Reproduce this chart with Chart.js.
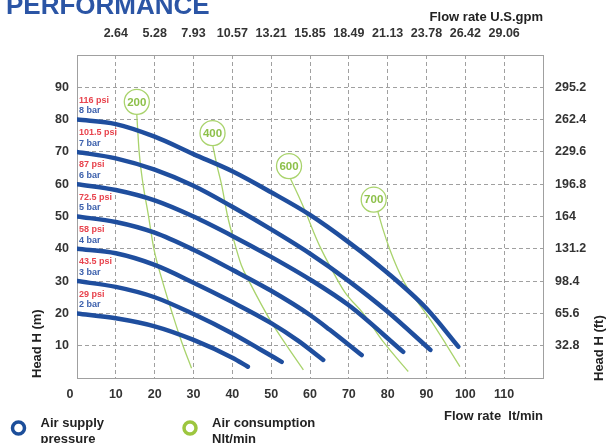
<!DOCTYPE html>
<html>
<head>
<meta charset="utf-8">
<script src="https://cdn.jsdelivr.net/npm/chart.js@4.4.1/dist/chart.umd.min.js"></script>
<style>
  html, body { margin: 0; padding: 0; background: #fff; }
  canvas { display: block; }
</style>
</head>
<body>
<canvas id="chart" width="608" height="443"></canvas>
<script>
// head (m) against flow rate (lt/min), one curve per air supply pressure
const pressureBar = ['8 bar', '7 bar', '6 bar', '5 bar', '4 bar', '3 bar', '2 bar'];
const pressurePsi = ['116 psi', '101.5 psi', '87 psi', '72.5 psi', '58 psi', '43.5 psi', '29 psi'];
const curve8bar = [[0, 80], [10, 78.6], [20, 74.7], [30, 69.3], [40, 64], [50, 57.5], [60, 50.5], [70, 42], [80, 32.5], [90, 21.5], [98.2, 9.7]];
const curve7bar = [[0, 70], [10, 68], [20, 64.5], [30, 59.5], [40, 53], [50, 46], [60, 38.5], [70, 30], [80, 20.5], [91, 8.7]];
const curve6bar = [[0, 60], [10, 58.2], [20, 55], [30, 50], [40, 44], [50, 37.5], [60, 30.5], [70, 22.5], [84, 8.1]];
const curve5bar = [[0, 50], [10, 48.3], [20, 45], [30, 39.7], [40, 33.5], [50, 27], [60, 19.5], [65, 15], [73.3, 7.1]];
const curve4bar = [[0, 40], [10, 38.6], [20, 35], [30, 29.5], [40, 23.5], [50, 17], [57, 11.5], [63.4, 5.6]];
const curve3bar = [[0, 30], [10, 28.2], [20, 25], [30, 19.8], [40, 13.8], [47, 9], [52.7, 5]];
const curve2bar = [[0, 20], [10, 18.5], [20, 16], [30, 11.8], [40, 6.3], [44, 3.5]];

// air consumption lines (Nlt/min) and where their circled labels sit
const airLevels = ['200', '400', '600', '700'];
const airLabelAt = [[15.4, 85.5], [34.9, 75.8], [54.6, 65.6], [76.4, 55.2]];
const air200 = [[15.4, 81.5], [16, 70], [17, 60], [18.3, 51], [19.8, 40], [22, 30], [24.8, 19], [27, 11], [29.5, 3]];
const air400 = [[35, 71.8], [36, 66], [37.2, 60], [38.8, 50], [40.3, 43], [42.3, 35], [44.6, 29.3], [49.7, 18], [54, 10], [58.3, 2.5]];
const air600 = [[55, 61.6], [57, 56.5], [59, 51], [61, 45], [62.6, 40.6], [65.2, 34.5], [69, 26.5], [73.7, 20], [79, 11], [85.3, 2]];
const air700 = [[77.5, 51.4], [78.8, 46], [80.6, 39.6], [82.5, 34], [84.9, 28.3], [88, 23], [91, 18], [95, 10.5], [98.6, 3.5]];

// secondary axes
const gpmTicks = ['2.64', '5.28', '7.93', '10.57', '13.21', '15.85', '18.49', '21.13', '23.78', '26.42', '29.06'];
const ftTicks = ['32.8', '65.6', '98.4', '131.2', '164', '196.8', '229.6', '262.4', '295.2'];

const blue = '#1f4e9e';
const green = '#a9d36c';
const greenText = '#8dc04a';
const red = '#e8434d';
const labelBlue = '#3d61ad';
const gridGray = '#a0a0a0';
const font = "'Liberation Sans', Arial, sans-serif";

const pressureCurves = [curve8bar, curve7bar, curve6bar, curve5bar, curve4bar, curve3bar, curve2bar];
const airCurves = [air200, air400, air600, air700];
const toXY = (pts) => pts.map(([x, y]) => ({ x, y }));

const datasets = [];
pressureCurves.forEach((pts, i) => {
  datasets.push({
    label: pressureBar[i],
    data: toXY(pts),
    borderColor: blue,
    borderWidth: 4.5,
    borderCapStyle: 'round',
    pointRadius: 0,
    cubicInterpolationMode: 'monotone',
  });
});
datasets.push({
  label: 'air labels',
  data: toXY(airLabelAt),
  showLine: false,
  pointRadius: 12.5,
  pointBackgroundColor: '#fff',
  pointBorderColor: green,
  pointBorderWidth: 1.3,
});
airCurves.forEach((pts, i) => {
  datasets.push({
    label: airLevels[i],
    data: toXY(pts),
    borderColor: green,
    borderWidth: 1.3,
    pointRadius: 0,
    cubicInterpolationMode: 'monotone',
  });
});

const tickFont = { family: font, size: 12.5, weight: 'bold' };
const titleFont = { family: font, size: 13, weight: 'bold' };
const edgeHidden = (lo, hi) => (c) => (c.tick.value === lo || c.tick.value === hi ? 'rgba(0,0,0,0)' : gridGray);

// texts that sit on the chart rather than on a scale
const textPlugin = {
  id: 'pumpText',
  afterDraw(chart) {
    const { ctx, scales: { x, y } } = chart;
    ctx.save();
    ctx.textBaseline = 'middle';

    ctx.font = `bold 11.5px ${font}`;
    ctx.textAlign = 'center';
    ctx.fillStyle = greenText;
    airLabelAt.forEach(([ax, ay], i) => {
      ctx.fillText(airLevels[i], x.getPixelForValue(ax), y.getPixelForValue(ay) + 0.5);
    });

    ctx.font = `bold 9px ${font}`;
    ctx.textAlign = 'left';
    pressureCurves.forEach((pts, i) => {
      const head = pts[0][1];
      ctx.fillStyle = red;
      ctx.fillText(pressurePsi[i], x.left + 2, y.getPixelForValue(head + 6));
      ctx.fillStyle = labelBlue;
      ctx.fillText(pressureBar[i], x.left + 2, y.getPixelForValue(head + 2.7));
    });

    // zero sits a little left of the corner
    ctx.font = `bold 12.5px ${font}`;
    ctx.textAlign = 'center';
    ctx.fillStyle = '#333';
    ctx.fillText('0', x.left - 7, 395);

    // page heading, cut off at the top
    ctx.font = `bold 26px ${font}`;
    ctx.textAlign = 'left';
    ctx.textBaseline = 'alphabetic';
    ctx.fillStyle = '#2b55a5';
    ctx.fillText('PERFORMANCE', 6, 14);

    // right axis title, reads bottom to top
    ctx.font = `bold 13px ${font}`;
    ctx.fillStyle = '#222';
    ctx.translate(599, 381);
    ctx.rotate(-Math.PI / 2);
    ctx.textBaseline = 'middle';
    ctx.fillText('Head H (ft)', 0, 0);
    ctx.setTransform(1, 0, 0, 1, 0, 0);

    // legend
    const legend = [
      { cx: 18.5, color: '#1c4e9a', lines: ['Air supply', 'pressure'] },
      { cx: 190, color: '#9dc63f', lines: ['Air consumption', 'Nlt/min'] },
    ];
    legend.forEach((item) => {
      ctx.beginPath();
      ctx.arc(item.cx, 428, 6, 0, Math.PI * 2);
      ctx.lineWidth = 3.5;
      ctx.strokeStyle = item.color;
      ctx.stroke();
      ctx.fillStyle = '#222';
      ctx.font = `bold 13px ${font}`;
      ctx.textBaseline = 'middle';
      ctx.fillText(item.lines[0], item.cx + 22, 423);
      ctx.fillText(item.lines[1], item.cx + 22, 439);
    });
    ctx.restore();
  },
};

new Chart(document.getElementById('chart'), {
  type: 'line',
  data: { datasets },
  options: {
    responsive: false,
    animation: false,
    layout: { padding: { top: 0, left: 0, right: 0, bottom: 19 } },
    plugins: { legend: { display: false }, tooltip: { enabled: false } },
    scales: {
      x: {
        type: 'linear',
        position: 'bottom',
        min: 0,
        max: 120,
        afterFit: (s) => { s.height = 46; },
        ticks: {
          stepSize: 10,
          padding: 9.5,
          font: tickFont,
          color: '#333',
          callback: (v) => (v === 0 || v === 120 ? '' : v),
        },
        grid: { color: edgeHidden(0, 120), drawTicks: false },
        border: { display: true, color: gridGray, dash: [4, 3] },
        title: { display: true, text: 'Flow rate  lt/min', align: 'end', font: titleFont, color: '#222', padding: { top: 0, bottom: 0 } },
      },
      x2: {
        type: 'linear',
        position: 'top',
        min: 0,
        max: 120,
        afterFit: (s) => { s.height = 55; },
        ticks: {
          stepSize: 10,
          padding: 5.5,
          font: tickFont,
          color: '#333',
          callback: (v) => gpmTicks[v / 10 - 1] || '',
        },
        grid: { display: false },
        border: { display: true, color: gridGray },
        title: { display: true, text: 'Flow rate U.S.gpm', align: 'end', font: titleFont, color: '#222', padding: { top: 10, bottom: 0 } },
      },
      y: {
        type: 'linear',
        position: 'left',
        min: 0,
        max: 100,
        afterFit: (s) => { s.width = 77; },
        ticks: {
          stepSize: 10,
          padding: 8,
          font: tickFont,
          color: '#333',
          callback: (v) => (v === 0 || v === 100 ? '' : v),
        },
        grid: { color: edgeHidden(0, 100), drawTicks: false },
        border: { display: true, color: gridGray, dash: [4, 3] },
        title: { display: true, text: 'Head H (m)', align: 'start', font: titleFont, color: '#222', padding: { top: 30, bottom: 0 } },
      },
      y2: {
        type: 'linear',
        position: 'right',
        min: 0,
        max: 100,
        afterFit: (s) => { s.width = 65; },
        ticks: {
          stepSize: 10,
          padding: 4,
          font: tickFont,
          color: '#333',
          callback: (v) => ftTicks[v / 10 - 1] || '',
        },
        grid: { display: false },
        border: { display: true, color: gridGray },
      },
    },
  },
  plugins: [textPlugin],
});
</script>
</body>
</html>
